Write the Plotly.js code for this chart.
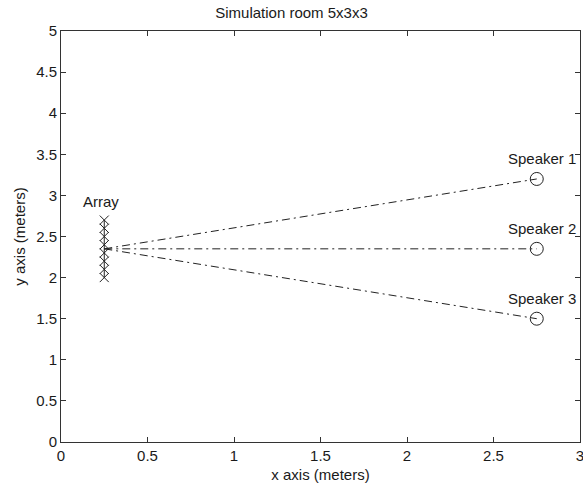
<!DOCTYPE html>
<html>
<head>
<meta charset="utf-8">
<script src="https://cdn.plot.ly/plotly-3.0.1.min.js"></script>
<style>html,body{margin:0;padding:0;background:#fff;}#chart{width:583px;height:488px;}</style>
</head>
<body>
<div id="chart"></div>
<script>
// Array element positions
var arrayX = [0.25, 0.25, 0.25, 0.25, 0.25, 0.25, 0.25, 0.25];
var arrayY = [2.0, 2.1, 2.2, 2.3, 2.4, 2.5, 2.6, 2.7];
var arrayCenter = [0.25, 2.35];
// Speakers
var speakerNames = ["Speaker 1", "Speaker 2", "Speaker 3"];
var speakerX = [2.75, 2.75, 2.75];
var speakerY = [3.2, 2.35, 1.5];
var xTicks = [0, 0.5, 1, 1.5, 2, 2.5, 3];
var yTicks = [0, 0.5, 1, 1.5, 2, 2.5, 3, 3.5, 4, 4.5, 5];

var font = {family: "Arial, 'Liberation Sans', sans-serif", size: 15, color: "#1a1a1a"};
var traces = [];
traces.push({x: arrayX, y: arrayY, mode: "lines+markers", line: {color: "#222", width: 1},
  marker: {symbol: "x-thin-open", size: 9, color: "#222", line: {color: "#222", width: 1}}, hoverinfo: "none"});
for (var i = 0; i < speakerX.length; i++) {
  traces.push({x: [arrayCenter[0], speakerX[i]], y: [arrayCenter[1], speakerY[i]], mode: "lines",
    line: {color: "#222", width: 1, dash: "8px,4px,2px,4px"}, hoverinfo: "none"});
}
traces.push({x: speakerX, y: speakerY, mode: "markers",
  marker: {symbol: "circle-open", size: 13, color: "#222", line: {color: "#222", width: 1}}, hoverinfo: "none"});

var annotations = [{x: 0.23, y: 2.93, text: "Array", showarrow: false, font: font, xanchor: "center", yanchor: "middle"}];
for (var j = 0; j < speakerNames.length; j++) {
  annotations.push({x: 2.78, y: speakerY[j] + 0.25, text: speakerNames[j], showarrow: false, font: font, xanchor: "center", yanchor: "middle"});
}

var axisCommon = {showline: true, linecolor: "#333", linewidth: 1, mirror: "ticks", ticks: "inside", ticklen: 5,
  tickcolor: "#333", showgrid: false, zeroline: false, tickfont: font, fixedrange: true, ticklabeloverflow: "allow"};

var layout = {
  width: 583, height: 488,
  margin: {l: 61, r: 3, t: 31, b: 46},
  paper_bgcolor: "#fff", plot_bgcolor: "#fff",
  showlegend: false,
  title: {text: "Simulation room 5x3x3", font: font, x: 0.5, xanchor: "center", y: 0.973, yanchor: "middle"},
  xaxis: Object.assign({}, axisCommon, {range: [0, 3], tickvals: xTicks, ticktext: xTicks.map(String),
    title: {text: "x axis (meters)", font: font, standoff: 6}}),
  yaxis: Object.assign({}, axisCommon, {range: [0, 5], tickvals: yTicks, ticktext: yTicks.map(String),
    title: {text: "y axis (meters)", font: font, standoff: 6}}),
  annotations: annotations
};
Plotly.newPlot("chart", traces, layout, {displayModeBar: false, staticPlot: true});
</script>
</body>
</html>
